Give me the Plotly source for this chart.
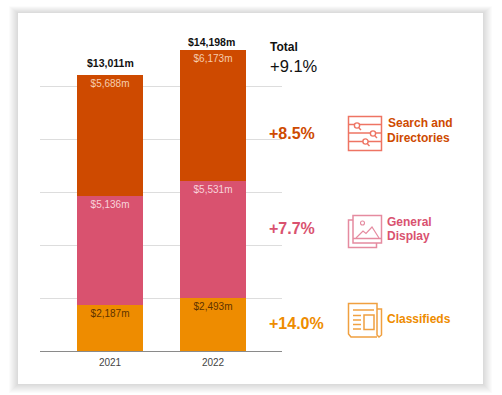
import plotly.graph_objects as go

W, H = 502, 395
years = ["2021", "2022"]
classifieds = [2187, 2493]
general_display = [5136, 5531]
search_directories = [5688, 6173]
totals = [13011, 14198]
grid_values = [0, 2500, 5000, 7500, 10000, 12500]

C_SEARCH, C_DISPLAY, C_CLASS = "#CE4A00", "#D9526F", "#EE8C00"
ICON_SEARCH, ICON_DISPLAY, ICON_CLASS = "#EE7463", "#E58BA0", "#F0A040"
FONT = "Liberation Sans"


def money(v):
    return f"${v:,}m"


def px(x):
    return x / W


def py(y):
    return 1 - y / H


fig = go.Figure()
for name, vals, col, tcol in [
    ("Classifieds", classifieds, C_CLASS, "#5E3300"),
    ("General Display", general_display, C_DISPLAY, "#F8D3DB"),
    ("Search and Directories", search_directories, C_SEARCH, "#F6CDAE"),
]:
    fig.add_trace(go.Bar(
        x=years, y=vals, name=name, marker=dict(color=col, line_width=0), width=0.645,
        text=[money(v) for v in vals], textposition="inside", insidetextanchor="end",
        textangle=0, constraintext="none",
        textfont=dict(family=FONT, size=10, color=tcol),
        cliponaxis=False, hoverinfo="skip",
    ))

shapes = []
# soft card shadow, then the card
for grow in range(9, 0, -1):
    shapes.append(dict(type="rect", xref="paper", yref="paper", layer="below",
                       x0=px(18 - grow), x1=px(483 + grow), y0=py(384 + grow), y1=py(13 - grow * 0.75),
                       line_width=0, fillcolor="rgba(70,70,70,0.022)"))
shapes.append(dict(type="rect", xref="paper", yref="paper", layer="below",
                   x0=px(18), x1=px(483), y0=py(384), y1=py(13), line_width=0, fillcolor="white"))


def path_shape(d_points, color, closed=False, width=1.5):
    d = "M " + " L ".join(f"{px(x):.5f},{py(y):.5f}" for x, y in d_points)
    if closed:
        d += " Z"
    shapes.append(dict(type="path", xref="paper", yref="paper", path=d,
                       line=dict(color=color, width=width), layer="above"))


def rect(x0, y0, x1, y1, color, width=1.5):
    path_shape([(x0, y0), (x1, y0), (x1, y1), (x0, y1)], color, True, width)


def circ(cx, cy, r, color, width=1.4):
    shapes.append(dict(type="circle", xref="paper", yref="paper",
                       x0=px(cx - r), x1=px(cx + r), y0=py(cy + r), y1=py(cy - r),
                       line=dict(color=color, width=width), fillcolor="white", layer="above"))


# Search icon
rect(348.5, 116.5, 381.5, 150.5, ICON_SEARCH)
for y in (124.5, 133, 141.5):
    path_shape([(348.5, y), (381.5, y)], ICON_SEARCH)
circ(357, 125.5, 2.6, ICON_SEARCH)
path_shape([(359, 128), (361, 130)], ICON_SEARCH)
circ(373, 133.5, 2.6, ICON_SEARCH)
path_shape([(375, 136), (377, 138)], ICON_SEARCH)
circ(365.5, 141.5, 2.6, ICON_SEARCH)
path_shape([(367.5, 144), (369.5, 146)], ICON_SEARCH)

# Display icon
rect(353, 215.5, 381.5, 243, ICON_DISPLAY)
path_shape([(353, 238.5), (381.5, 238.5)], ICON_DISPLAY)
path_shape([(353, 220), (348.5, 220), (348.5, 247.5), (376.5, 247.5), (376.5, 243)], ICON_DISPLAY)
circ(362.5, 223, 2, ICON_DISPLAY, 1.1)
path_shape([(356, 238), (363, 231), (366, 233.5), (372, 227), (379, 238)], ICON_DISPLAY, width=1.2)

# Classifieds icon
path_shape([(377, 337), (351, 337), (348.5, 334), (348.5, 303.5), (377, 303.5), (377, 335), (379, 337),
            (381.5, 335), (381.5, 309), (377, 309)], ICON_CLASS)
path_shape([(353, 310), (374, 310)], ICON_CLASS)
rect(364, 315, 374, 329.5, ICON_CLASS)
for y in (315.5, 320, 324.5, 329):
    path_shape([(353, y), (361, y)], ICON_CLASS)

notes = [
    ("<b>Total</b>", 268, 47, 12, "#111111"),
    ("+9.1%", 268, 66, 16.5, "#111111"),
    ("<b>+8.5%</b>", 267, 133, 16, C_SEARCH),
    ("<b>+7.7%</b>", 267, 228, 16, C_DISPLAY),
    ("<b>+14.0%</b>", 267, 323, 16, C_CLASS),
    ("<b>Search and</b>", 386, 123, 12, C_SEARCH),
    ("<b>Directories</b>", 385, 138, 12, C_SEARCH),
    ("<b>General</b>", 385, 222, 12, C_DISPLAY),
    ("<b>Display</b>", 385, 236, 12, C_DISPLAY),
    ("<b>Classifieds</b>", 385, 319, 12, C_CLASS),
]
annotations = [dict(text=t, x=px(x), y=py(y), xref="paper", yref="paper", xanchor="left", yanchor="middle",
                    showarrow=False, font=dict(family=FONT, size=s, color=c)) for t, x, y, s, c in notes]

# totals above the stacks
for i, (total, yshift, xshift) in enumerate(zip(totals, [4, 0], [0, -2])):
    annotations.append(dict(text=f"<b>{money(total)}</b>", x=i, y=total, xref="x", yref="y",
                            xanchor="center", yanchor="bottom", yshift=yshift, xshift=xshift, showarrow=False,
                            font=dict(family=FONT, size=10.5, color="#111111")))

fig.update_layout(
    width=W, height=H, margin=dict(l=0, r=0, t=0, b=0), barmode="stack", barcornerradius=1.5,
    showlegend=False, paper_bgcolor="white", plot_bgcolor="rgba(0,0,0,0)",
    shapes=shapes, annotations=annotations,
    font=dict(family=FONT),
    xaxis=dict(domain=[px(40), px(282)], type="category", range=[-0.68, 1.67], showgrid=False,
               showline=False, ticks="", tickfont=dict(family=FONT, size=10, color="#444444"),
               ticklabelstandoff=4),
    yaxis=dict(domain=[py(351), py(33)], range=[0, 15000], tickvals=grid_values, showticklabels=False,
               gridcolor="#DDDDDD", gridwidth=1, zeroline=True, zerolinecolor="#8A8A8A", zerolinewidth=1, showline=False),
)
fig.write_html("out.html", config={"displayModeBar": False},
               post_script="document.body.style.margin='0';document.documentElement.style.overflow='hidden';")
